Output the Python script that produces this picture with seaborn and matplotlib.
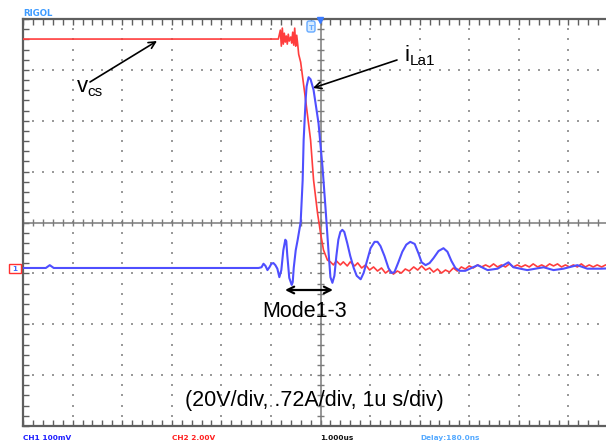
import numpy as np
import pandas as pd
import matplotlib
matplotlib.use("Agg")
import matplotlib.pyplot as plt
from matplotlib.patches import FancyBboxPatch, Rectangle
from matplotlib.ticker import MultipleLocator
import seaborn as sns

# ---- captured traces (time in µs relative to screen centre) ----
# CH2: switch-node voltage v_cs  [V]
t_vcs = [-6.00, -0.85, -0.81, -0.79, -0.77, -0.75, -0.73, -0.71, -0.69, -0.67,
         -0.65, -0.63, -0.60, -0.58, -0.56, -0.54, -0.52, -0.50, -0.48, -0.46,
         -0.44, -0.40, -0.30, -0.20, -0.14, -0.06, 0.00, 0.06, 0.14, 0.20,
         0.26, 0.32, 0.40, 0.46, 0.54, 0.60, 0.69, 0.75, 0.83, 0.91,
         0.99, 1.07, 1.15, 1.23, 1.31, 1.39, 1.47, 1.55, 1.63, 1.71,
         1.79, 1.88, 1.96, 2.04, 2.12, 2.20, 2.28, 2.36, 2.44, 2.52,
         2.60, 2.68, 2.76, 2.84, 2.92, 3.00, 3.08, 3.17, 3.25, 3.33,
         3.41, 3.49, 3.57, 3.65, 3.73, 3.81, 3.89, 3.97, 4.05, 4.13,
         4.21, 4.29, 4.38, 4.46, 4.54, 4.62, 4.70, 4.78, 4.86, 4.94,
         5.02, 5.10, 5.18, 5.26, 5.34, 5.42, 5.50, 5.58, 5.67, 5.75, 6.00]
vcs_V = [90.0, 90.0, 93.5, 87.2, 94.3, 88.0, 92.3, 88.8, 91.2, 88.0,
         91.9, 89.2, 90.8, 88.4, 92.7, 87.6, 94.3, 87.2, 91.5, 88.0,
         84.0, 80.9, 66.0, 50.3, 34.6, 21.6, 13.8, 7.1, 3.1, 2.4,
         1.2, 2.8, 1.2, 2.4, 0.8, 2.4, 0.8, 2.0, 0.0, 1.2,
         -0.8, 0.4, -1.2, 0.0, -2.0, -0.8, -2.4, -1.2, -2.0, -0.4,
         -1.2, 0.4, -0.8, 0.8, -0.8, 0.0, -1.6, -0.4, -2.0, -0.8,
         -1.6, 0.0, -1.2, 0.4, -0.4, 0.8, 0.0, 1.2, 0.4, 1.2,
         0.4, 1.6, 0.4, 1.2, 0.4, 1.6, 0.4, 1.2, 0.4, 1.2,
         0.4, 1.6, 0.4, 1.2, 0.4, 1.6, 0.8, 1.6, 0.4, 1.2,
         0.4, 1.2, 0.4, 1.6, 0.4, 1.2, 0.4, 1.2, 0.4, 1.2, 0.8]

# CH1: resonant inductor current i_La1  [A]
t_ila = [-6.00, -5.54, -5.46, -5.38, -1.25, -1.19, -1.15, -1.11, -1.07, -1.03,
         -0.99, -0.95, -0.91, -0.87, -0.83, -0.79, -0.75, -0.71, -0.69, -0.67,
         -0.63, -0.58, -0.56, -0.54, -0.50, -0.46, -0.40, -0.36, -0.34, -0.30,
         -0.28, -0.24, -0.20, -0.14, -0.04, 0.04, 0.10, 0.16, 0.20, 0.24,
         0.28, 0.32, 0.36, 0.40, 0.44, 0.48, 0.54, 0.60, 0.67, 0.73,
         0.81, 0.87, 0.93, 1.01, 1.09, 1.15, 1.21, 1.29, 1.37, 1.43,
         1.49, 1.57, 1.65, 1.73, 1.81, 1.90, 1.98, 2.04, 2.12, 2.20,
         2.28, 2.38, 2.48, 2.56, 2.64, 2.72, 2.80, 2.92, 3.17, 3.37,
         3.57, 3.79, 3.89, 4.17, 4.50, 4.70, 4.90, 5.18, 5.38, 5.65, 6.00]
ila_A = [0.00, 0.00, 0.04, 0.00, 0.00, 0.01, 0.06, 0.03, -0.03, 0.01,
         0.06, 0.07, 0.04, -0.01, -0.13, -0.03, 0.25, 0.40, 0.38, 0.18,
         -0.14, -0.24, -0.20, 0.00, 0.25, 0.40, 0.65, 1.24, 1.81, 2.38,
         2.57, 2.70, 2.67, 2.52, 2.05, 1.43, 0.86, 0.25, -0.13, -0.21,
         -0.11, 0.17, 0.40, 0.51, 0.54, 0.51, 0.35, 0.17, 0.00, -0.11,
         -0.16, -0.07, 0.08, 0.28, 0.37, 0.37, 0.31, 0.17, 0.00, -0.07,
         -0.06, 0.08, 0.23, 0.33, 0.37, 0.34, 0.20, 0.08, 0.04, 0.07,
         0.14, 0.24, 0.28, 0.23, 0.10, 0.00, -0.04, -0.04, 0.04, -0.03,
         -0.01, 0.08, 0.01, -0.03, 0.01, -0.03, -0.01, 0.04, -0.01, -0.01, 0.00]

# scope settings
VOLTS_PER_DIV = 20.0
AMPS_PER_DIV = 0.72
GROUND_DIV = -0.894          # both channel references sit just below centre

RED = "#ff3d3d"
BLUE = "#4f4fff"
FRAME = "#5f5f5f"

sns.set_theme(style="white")
plt.rcParams["font.family"] = ["Liberation Sans", "DejaVu Sans"]

W, H = 606, 443
fig = plt.figure(figsize=(W / 100, H / 100), dpi=100)
fig.patch.set_facecolor("white")

def fy(y):
    return H - y

# screen: 12 x 8 divisions, right edge runs past the image border
left, right, top, bottom = 23, 618, 19, 426
ax = fig.add_axes([left / W, (H - bottom) / H, (right - left) / W, (bottom - top) / H])
ax.set_facecolor("white")
ax.set_xlim(-6, 6)
ax.set_ylim(-4, 4)

# dotted graticule
dots_x, dots_y = [], []
for xm in range(-5, 6):
    if xm == 0:
        continue
    ys = np.arange(-4, 4.001, 0.2)
    dots_x += [xm] * len(ys)
    dots_y += list(ys)
for ym in range(-3, 4):
    if ym == 0:
        continue
    xs = np.arange(-6, 6.001, 0.2)
    dots_x += list(xs)
    dots_y += [ym] * len(xs)
ax.scatter(dots_x, dots_y, s=1.3, color="#9a9a9a", marker="s", linewidths=0, zorder=1)

# centre cross with minor ticks
ax.axhline(0, color="#7a7a7a", lw=1.1, zorder=1)
ax.axvline(0, color="#7a7a7a", lw=1.1, zorder=1)
tx = np.arange(-6, 6.001, 0.2)
ty = np.arange(-4, 4.001, 0.2)
ax.vlines(tx, -0.075, 0.075, color="#7a7a7a", lw=1.0, zorder=1)
ax.hlines(ty, -0.08, 0.08, color="#7a7a7a", lw=1.0, zorder=1)

# frame and edge ticks
for side in ["left", "top", "bottom"]:
    ax.spines[side].set_visible(True)
    ax.spines[side].set_color(FRAME)
    ax.spines[side].set_linewidth(1.6)
ax.spines["right"].set_visible(False)
ax.xaxis.set_major_locator(MultipleLocator(1))
ax.xaxis.set_minor_locator(MultipleLocator(0.2))
ax.yaxis.set_major_locator(MultipleLocator(1))
ax.yaxis.set_minor_locator(MultipleLocator(0.2))
ax.tick_params(which="both", direction="in", length=4, width=1.0, color=FRAME,
               top=True, bottom=True, left=True, right=False,
               labelbottom=False, labelleft=False)
ax.grid(False)

# traces
df_v = pd.DataFrame({"t": t_vcs, "div": np.array(vcs_V) / VOLTS_PER_DIV + GROUND_DIV})
df_i = pd.DataFrame({"t": t_ila, "div": np.array(ila_A) / AMPS_PER_DIV + GROUND_DIV})
sns.lineplot(data=df_v, x="t", y="div", ax=ax, color=RED, lw=1.2, sort=False,
             estimator=None, zorder=3)
sns.lineplot(data=df_i, x="t", y="div", ax=ax, color=BLUE, lw=1.5, sort=False,
             estimator=None, zorder=4)
ax.set_xlabel("")
ax.set_ylabel("")

# scope furniture
fig.text(23 / W, fy(16) / H, "RIGOL", color="#3d9bff", fontsize=6.2, fontweight="bold",
         family=["DejaVu Sans"], va="baseline")
bot = [(23, "CH1 100mV", "#1f1fff"), (172, "CH2 2.00V", "#ff2020"),
       (320, "1.000us", "#111111"), (420, "Delay:180.0ns", "#55aaff")]
for x, s, c in bot:
    fig.text(x / W, fy(440) / H, s, color=c, fontsize=5.3, fontweight="bold",
             family=["DejaVu Sans"], va="baseline")

# trigger-position marker and channel reference marker
fig.patches.append(FancyBboxPatch((307, fy(32)), 8, 11, boxstyle="round,pad=0,rounding_size=2",
                                  transform=None, facecolor="#d8ecff", edgecolor="#66aaff",
                                  lw=1.0, figure=fig))
fig.text(311 / W, fy(29.5) / H, "T", color="#66aaff", fontsize=5, ha="center",
         family=["DejaVu Sans"], fontweight="bold")
fig.patches.append(Rectangle((9, fy(273)), 12, 9, transform=None, facecolor="white",
                             edgecolor="#ff3030", lw=1.0, figure=fig))
fig.text(15 / W, fy(271) / H, "1", color="#3d6bff", fontsize=5.2, ha="center",
         family=["DejaVu Sans"], fontweight="bold")
fig.lines.append(plt.Line2D([320 / W], [fy(20) / H], transform=fig.transFigure,
                            marker="v", markersize=4, color="#3b7bff", figure=fig))

# annotations
fig.text(77 / W, fy(92) / H, "v", fontsize=16, va="baseline", color="black")
fig.text(87 / W, fy(96) / H, "cs", fontsize=11, va="baseline", color="black")
fig.text(404 / W, fy(61) / H, "i", fontsize=16, va="baseline", color="black")
fig.text(410 / W, fy(65) / H, "La1", fontsize=11, va="baseline", color="black")
fig.text(262 / W, fy(317) / H, "Mode1-3", fontsize=15.5, va="baseline", color="black")
fig.text(185 / W, fy(406) / H, "(20V/div, .72A/div, 1u s/div)", fontsize=15.5,
         va="baseline", color="black")

arrow = dict(arrowstyle="->", color="black", lw=1.2, shrinkA=0, shrinkB=0)
ax.annotate("", xy=(157, fy(41)), xytext=(90, fy(82)), xycoords="figure pixels",
            textcoords="figure pixels", arrowprops=arrow)
ax.annotate("", xy=(313, fy(88)), xytext=(397, fy(60)), xycoords="figure pixels",
            textcoords="figure pixels", arrowprops=arrow)
ax.annotate("", xy=(285, fy(290)), xytext=(333, fy(290)), xycoords="figure pixels",
            textcoords="figure pixels",
            arrowprops=dict(arrowstyle="<->", color="black", lw=1.6, shrinkA=0, shrinkB=0))

fig.savefig("out.png", dpi=100, facecolor="white")
